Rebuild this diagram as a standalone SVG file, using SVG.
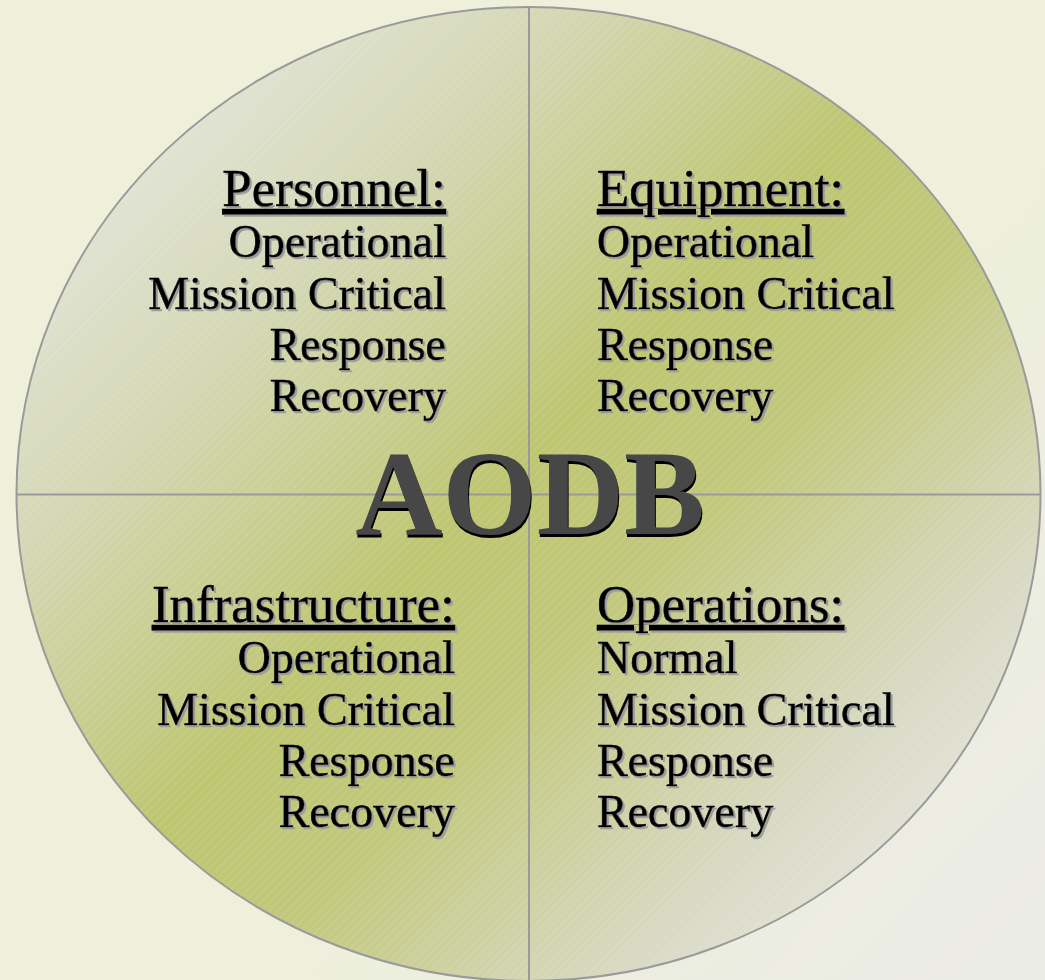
<svg xmlns="http://www.w3.org/2000/svg" width="1045" height="980" viewBox="0 0 1045 980">
<style>
.h{font-family:"Liberation Serif","Times New Roman",serif;font-size:53px;fill:#000;stroke:#000;stroke-width:0.6;text-decoration:underline;}
.t{font-family:"Liberation Serif","Times New Roman",serif;font-size:46px;fill:#000;stroke:#000;stroke-width:0.6;}
.e{text-anchor:end;}
.div{stroke:#9a9a9a;stroke-width:2;fill:none;}
.big{font-family:"Liberation Serif","Times New Roman",serif;font-size:121px;font-weight:bold;text-anchor:middle;}
</style>
<defs>
<linearGradient id="bg" gradientUnits="userSpaceOnUse" x1="0" y1="0" x2="1045" y2="980">
<stop offset="0" stop-color="#eef0da"/>
<stop offset="0.6" stop-color="#eef0dc"/>
<stop offset="1" stop-color="#ebebe6"/>
</linearGradient>
<linearGradient id="disc" gradientUnits="userSpaceOnUse" x1="150" y1="130" x2="930" y2="910">
<stop offset="0" stop-color="#e2e4d6"/>
<stop offset="0.2" stop-color="#d3d7b2"/>
<stop offset="0.45" stop-color="#bec672"/>
<stop offset="0.6" stop-color="#c2c87c"/>
<stop offset="0.85" stop-color="#d9dac6"/>
<stop offset="1" stop-color="#e8e8df"/>
</linearGradient>
<pattern id="hatch" patternUnits="userSpaceOnUse" width="6" height="6" patternTransform="rotate(45)">
<line x1="0" y1="0" x2="0" y2="6" stroke="#ffffff" stroke-width="1" stroke-opacity="0.22"/>
</pattern>
<filter id="sh" x="-5%" y="-20%" width="110%" height="140%">
<feDropShadow dx="2" dy="2" stdDeviation="0.3" flood-color="#9c9c9c" flood-opacity="1"/>
</filter>
<filter id="bsh" x="-5%" y="-20%" width="110%" height="140%">
<feDropShadow dx="1" dy="3" stdDeviation="0.2" flood-color="#000" flood-opacity="1"/>
</filter>
</defs>
<rect width="1045" height="980" fill="url(#bg)"/>
<g id="disc-shape">
<ellipse cx="528.5" cy="494" rx="512" ry="487" fill="url(#disc)"/>
<ellipse cx="528.5" cy="494" rx="512" ry="487" fill="url(#hatch)"/>
<ellipse cx="528.5" cy="494" rx="512" ry="487" fill="none" stroke="#9a9a9a" stroke-width="2"/>
</g>
<g id="connectors">
<line class="div" x1="529" y1="7" x2="529" y2="981"/>
<line class="div" x1="16.5" y1="494.5" x2="1040.5" y2="494.5"/>
</g>
<g id="personnel" filter="url(#sh)">
<text class="h e" x="446" y="206">Personnel:</text>
<text class="t e" x="446" y="257">Operational</text>
<text class="t e" x="446" y="309">Mission Critical</text>
<text class="t e" x="446" y="360">Response</text>
<text class="t e" x="446" y="411">Recovery</text>
</g>
<g id="equipment" filter="url(#sh)">
<text class="h" x="597" y="206">Equipment:</text>
<text class="t" x="597" y="257">Operational</text>
<text class="t" x="597" y="309">Mission Critical</text>
<text class="t" x="597" y="360">Response</text>
<text class="t" x="597" y="411">Recovery</text>
</g>
<g id="infrastructure" filter="url(#sh)">
<text class="h e" x="455" y="622">Infrastructure:</text>
<text class="t e" x="455" y="673">Operational</text>
<text class="t e" x="455" y="725">Mission Critical</text>
<text class="t e" x="455" y="776">Response</text>
<text class="t e" x="455" y="827">Recovery</text>
</g>
<g id="operations" filter="url(#sh)">
<text class="h" x="597" y="622">Operations:</text>
<text class="t" x="597" y="673">Normal</text>
<text class="t" x="597" y="725">Mission Critical</text>
<text class="t" x="597" y="776">Response</text>
<text class="t" x="597" y="827">Recovery</text>
</g>
<g id="aodb" filter="url(#bsh)">
<text class="big" x="530" y="534" fill="#474747">AODB</text>
</g>
</svg>
